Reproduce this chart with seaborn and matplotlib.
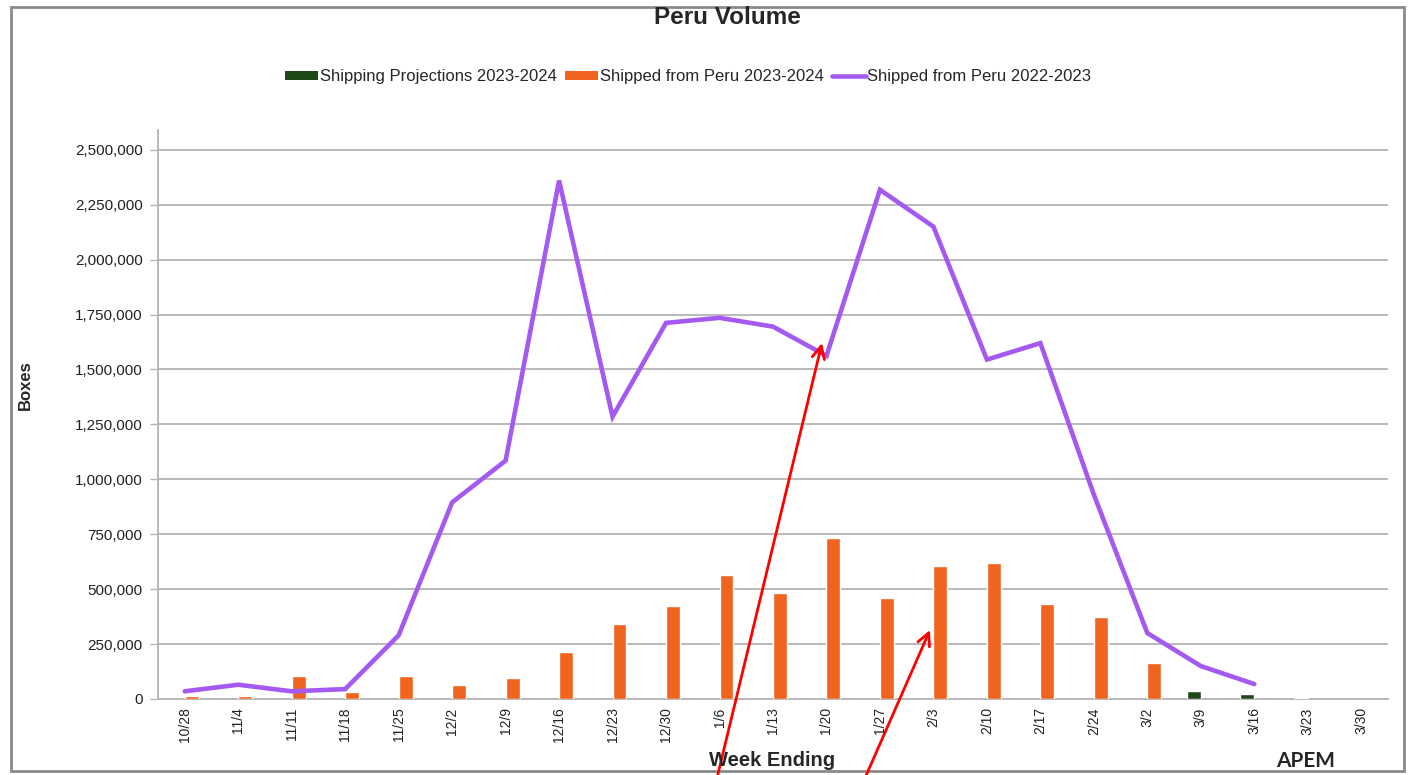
import numpy as np
import pandas as pd
import matplotlib
matplotlib.use("Agg")
import matplotlib.pyplot as plt
import seaborn as sns
from matplotlib.patches import Patch, Rectangle
from matplotlib.lines import Line2D
from matplotlib.ticker import FuncFormatter

# Week-ending dates on the category axis
weeks = ["10/28", "11/4", "11/11", "11/18", "11/25", "12/2", "12/9", "12/16",
         "12/23", "12/30", "1/6", "1/13", "1/20", "1/27", "2/3", "2/10",
         "2/17", "2/24", "3/2", "3/9", "3/16", "3/23", "3/30"]

# Previous season, weekly boxes (10/28 .. 3/16)
shipped_2223 = [35000, 65000, 35000, 45000, 290000, 895000, 1085000, 2360000,
                1285000, 1712000, 1735000, 1695000, 1562000, 2318000, 2150000,
                1545000, 1620000, 930000, 300000, 150000, 68000]

# Current season actual shipments (10/28 .. 3/2)
shipped_2324 = [14000, 14000, 105000, 32000, 105000, 64000, 96000, 214000,
                342000, 424000, 565000, 483000, 733000, 460000, 606000,
                619000, 433000, 373000, 164000]

# Projected shipments for the remaining weeks (3/9 .. 3/23)
projection_weeks = ["3/9", "3/16", "3/23"]
projections_2324 = [36000, 23000, 5000]

series_proj = "Shipping Projections 2023-2024"
series_ship = "Shipped from Peru 2023-2024"
series_prev = "Shipped from Peru 2022-2023"

green = "#1b4a14"
orange = "#f0641f"
purple = "#a45af0"
grid_grey = "#b4b4b4"

bars = pd.concat([
    pd.DataFrame({"week": projection_weeks, "boxes": projections_2324, "series": series_proj}),
    pd.DataFrame({"week": weeks[:len(shipped_2324)], "boxes": shipped_2324, "series": series_ship}),
], ignore_index=True)

sns.set_style("white")
plt.rcParams["font.family"] = ["Liberation Sans Narrow", "Liberation Sans", "DejaVu Sans"]

W, H = 1409, 775
fig = plt.figure(figsize=(W / 100, H / 100), dpi=100)
fig.patch.set_facecolor("white")
ax = fig.add_axes([158 / W, 1 - 699 / H, (1388 - 158) / W, (699 - 130) / H])

sns.barplot(data=bars, x="week", y="boxes", hue="series", order=weeks,
            hue_order=[series_proj, series_ship], palette=[green, orange],
            width=0.52, dodge=True, legend=False, saturation=1, ax=ax, zorder=3)

sns.lineplot(x=np.arange(len(shipped_2223)), y=shipped_2223, color=purple,
             linewidth=3.3, ax=ax, zorder=4, solid_joinstyle="miter")

ax.set_xlim(-0.5, len(weeks) - 0.5)
ax.set_ylim(0, 2590000)
ax.set_yticks(np.arange(0, 2500001, 250000))
ax.yaxis.set_major_formatter(FuncFormatter(lambda v, p: f"{int(v):,}"))
ax.yaxis.grid(True, color=grid_grey, linewidth=1.3)
ax.xaxis.grid(False)
ax.set_axisbelow(True)

ax.set_xticks(range(len(weeks)))
ax.set_xticklabels(weeks, rotation=90, fontsize=10, color="#222222")
ax.set_xticks(np.arange(-0.5, len(weeks)), minor=True)
ax.tick_params(axis="x", which="major", length=0, pad=6)
ax.tick_params(axis="x", which="minor", length=5, width=1, color=grid_grey, direction="out")
ax.tick_params(axis="y", which="major", length=6, width=1, color=grid_grey,
               direction="out", labelsize=11, labelcolor="#222222", pad=5, left=True)

for side in ("top", "right"):
    ax.spines[side].set_visible(False)
for side in ("left", "bottom"):
    ax.spines[side].set_color(grid_grey)
    ax.spines[side].set_linewidth(1.3)

ax.set_xlabel("")
ax.set_ylabel("")

# Titles and axis captions
fig.text(727 / W, 1 - 18 / H, "Peru Volume", ha="center", va="center",
         fontsize=17.5, fontweight="bold", family=["Liberation Sans", "DejaVu Sans"])
fig.text(25 / W, 1 - 385 / H, "Boxes", rotation=90, ha="center", va="center",
         fontsize=12, fontweight="bold", family=["Liberation Sans", "DejaVu Sans"])
fig.text(772 / W, 1 - 760 / H, "Week Ending", ha="center", va="center",
         fontsize=14.5, fontweight="bold", family=["Liberation Sans", "DejaVu Sans"])
fig.text(1306 / W, 1 - 761 / H, "APEM", ha="center", va="center",
         fontsize=15, fontweight="bold", family=["Lato", "DejaVu Sans"])

# Legend across the top
handles = [Patch(facecolor=green, edgecolor="none"),
           Patch(facecolor=orange, edgecolor="none"),
           Line2D([0], [0], color=purple, linewidth=3.3)]
fig.legend(handles, [series_proj, series_ship, series_prev], loc="center",
           bbox_to_anchor=(688 / W, 1 - 77 / H), ncol=3, frameon=False,
           fontsize=12, handlelength=2.0, handleheight=0.45, handletextpad=0.1,
           columnspacing=0.5)

# Outer frame
fig.add_artist(Rectangle((11 / W, 4 / H), (1404 - 11) / W, (768 - 4) / H,
                         transform=fig.transFigure, fill=False,
                         edgecolor="#8a8a8a", linewidth=2))

# Red pointer arrows
arrow = dict(arrowstyle="->,head_length=0.9,head_width=0.45", color="red", lw=2,
             shrinkA=0, shrinkB=0)
fig.add_artist(matplotlib.text.Annotation("", xy=(822, H - 343), xytext=(717, H - 778),
                                          xycoords="figure pixels", textcoords="figure pixels",
                                          arrowprops=arrow, annotation_clip=False))
fig.add_artist(matplotlib.text.Annotation("", xy=(930, H - 630), xytext=(865, H - 778),
                                          xycoords="figure pixels", textcoords="figure pixels",
                                          arrowprops=arrow, annotation_clip=False))

fig.savefig("out.png", dpi=100, facecolor="white")
